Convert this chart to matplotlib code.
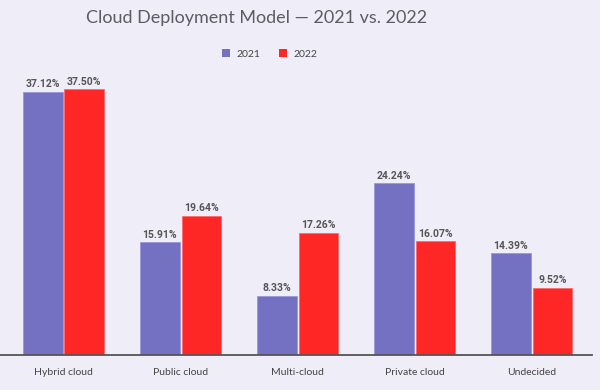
import matplotlib
matplotlib.use("Agg")
import matplotlib.pyplot as plt
import numpy as np
from matplotlib.patches import Patch

categories = ["Hybrid cloud", "Public cloud", "Multi-cloud", "Private cloud", "Undecided"]
series_names = ["2021", "2022"]
values_2021 = [37.12, 15.91, 8.33, 24.24, 14.39]
values_2022 = [37.50, 19.64, 17.26, 16.07, 9.52]

bg = "#EFEEF8"
c2021 = "#7470C2"
c2022 = "#FF2626"

plt.rcParams['font.family'] = ['Lato', 'DejaVu Sans']

fig = plt.figure(figsize=(6, 3.9), dpi=100, facecolor=bg)
ax = fig.add_axes([0.0, 0.0897, 0.987, 0.727])
ax.set_facecolor(bg)

x = np.arange(len(categories))
w = 0.34
off = 0.178
b1 = ax.bar(x - off, values_2021, w, color=c2021, edgecolor="#9a96dc", linewidth=0.6)
b2 = ax.bar(x + off, values_2022, w, color=c2022, edgecolor="#ff6a6a", linewidth=0.6)

for bars, vals in ((b1, values_2021), (b2, values_2022)):
    for r, v in zip(bars, vals):
        ax.text(r.get_x() + r.get_width() / 2, v + 0.35, f"{v:.2f}%",
                ha="center", va="bottom", fontsize=7.5, fontweight="bold",
                color="#555555", family=["Roboto", "DejaVu Sans"])

ax.set_xlim(-0.543, 4.517)
ax.set_ylim(0, 40)
ax.set_yticks([])
ax.set_xticks(x)
ax.set_xticklabels(categories, fontsize=7.5, color="#444444")
ax.tick_params(axis="x", length=0, pad=9)
for s in ["top", "right", "left"]:
    ax.spines[s].set_visible(False)
ax.spines["bottom"].set_color("#555555")
ax.spines["bottom"].set_linewidth(1.3)

fig.text(0.428, 0.953, "Cloud Deployment Model \u2014 2021 vs. 2022", ha="center", va="center",
         fontsize=13, color="#5c5c64", fontweight="normal")

handles = [Patch(facecolor=c2021, edgecolor="none"), Patch(facecolor=c2022, edgecolor="none")]
fig.legend(handles, series_names, loc="center", bbox_to_anchor=(0.449, 0.862), ncol=2,
           frameon=False, fontsize=7.5, handlelength=0.8, handleheight=0.8,
           handletextpad=0.6, columnspacing=1.8, labelcolor="#444444")

fig.savefig("out.png", dpi=100, facecolor=bg)
